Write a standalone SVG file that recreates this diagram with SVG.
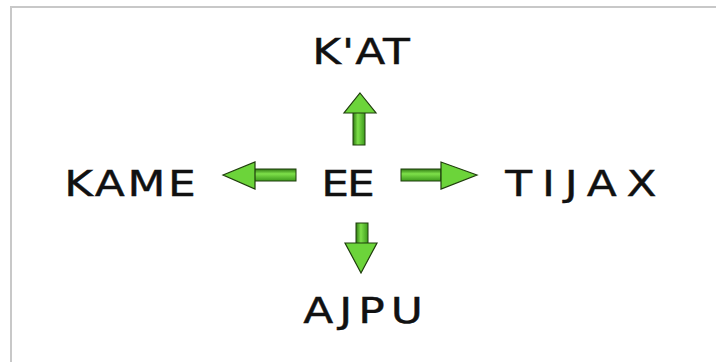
<svg xmlns="http://www.w3.org/2000/svg" width="716" height="362" viewBox="0 0 716 362">
<defs>
<linearGradient id="gv" x1="0" y1="0" x2="1" y2="0">
<stop offset="0" stop-color="#2f7a12"/><stop offset="0.4" stop-color="#7ee04a"/><stop offset="1" stop-color="#3d9a1c"/>
</linearGradient>
<linearGradient id="gh" x1="0" y1="0" x2="0" y2="1">
<stop offset="0" stop-color="#2f7a12"/><stop offset="0.4" stop-color="#7ee04a"/><stop offset="1" stop-color="#3d9a1c"/>
</linearGradient>
<style>
.lbl{font-family:"DejaVu Sans","Liberation Sans",sans-serif;font-size:36px;fill:#111;stroke:#111;stroke-width:0.4;text-anchor:middle}
.ah{fill:#6cd43a;stroke:#1f3d0c;stroke-width:1.2;stroke-linejoin:miter}
.shv{fill:url(#gv);stroke:#1f3d0c;stroke-width:1}
.shh{fill:url(#gh);stroke:#1f3d0c;stroke-width:1}
</style>
</defs>
<rect x="0" y="0" width="716" height="362" fill="#fff"/>
<path d="M11 362 V7 H716" fill="none" stroke="#c8c8c8" stroke-width="2"/>
<g id="node-kat"><text class="lbl" transform="translate(361 64) scale(1.22 1)" x="0" y="0" textLength="80" lengthAdjust="spacing">K'AT</text></g>
<g id="node-kame"><text class="lbl" transform="translate(130 196) scale(1.22 1)" x="0" y="0" textLength="108" lengthAdjust="spacing">KAME</text></g>
<g id="node-ee"><text class="lbl" transform="translate(348 196) scale(1.22 1)" x="0" y="0" textLength="44" lengthAdjust="spacing">EE</text></g>
<g id="node-tijax"><text class="lbl" transform="translate(581 196) scale(1.22 1)" x="0" y="0" textLength="124" lengthAdjust="spacing">TIJAX</text></g>
<g id="node-ajpu"><text class="lbl" transform="translate(363 323) scale(1.22 1)" x="0" y="0" textLength="98" lengthAdjust="spacing">AJPU</text></g>
<g id="connectors">
<g id="arrow-up">
<rect class="shv" x="353" y="112" width="12" height="33"/>
<polygon class="ah" points="360,93 376,113 344,113"/>
</g>
<g id="arrow-down">
<rect class="shv" x="356" y="223" width="12" height="21"/>
<polygon class="ah" points="361,273 377,243 345,243"/>
</g>
<g id="arrow-left">
<rect class="shh" x="254" y="169" width="42" height="12"/>
<polygon class="ah" points="223,175 255,162 255,189"/>
</g>
<g id="arrow-right">
<rect class="shh" x="401" y="169" width="40" height="12"/>
<polygon class="ah" points="477,175 441,162 441,189"/>
</g>
</g>
</svg>
